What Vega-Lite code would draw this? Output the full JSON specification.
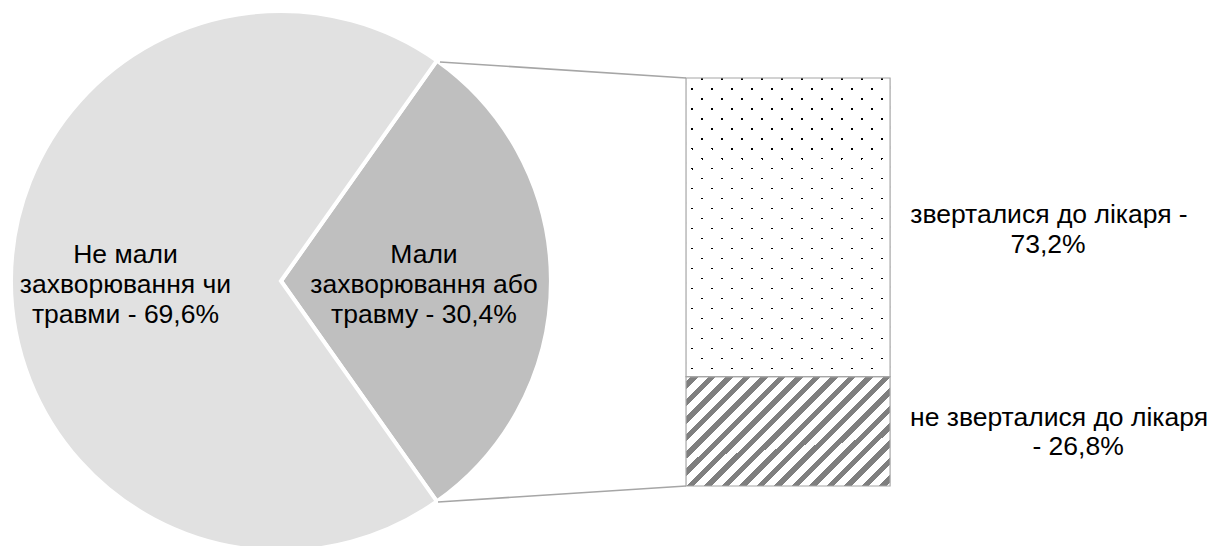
{
  "$schema": "https://vega.github.io/schema/vega-lite/v6.json",
  "width": 1211,
  "height": 546,
  "autosize": "none",
  "padding": 0,
  "background": "#ffffff",
  "config": {"view": {"stroke": null}},
  "datasets": {
    "pie": [
      {"group": "Мали захворювання або травму", "share": 30.4, "label": "Мали\nзахворювання або\nтравму - 30,4%"},
      {"group": "Не мали захворювання чи травми", "share": 69.6, "label": "Не мали\nзахворювання чи\nтравми - 69,6%"}
    ],
    "bar": [
      {"group": "не зверталися до лікаря", "share": 26.8, "l1": "не зверталися до лікаря", "l2": "- 26,8%"},
      {"group": "зверталися до лікаря", "share": 73.2, "l1": "зверталися до лікаря -", "l2": "73,2%"}
    ]
  },
  "layer": [
    {
      "data": {"name": "pie"},
      "mark": {"type": "arc", "radius": 270, "stroke": "#ffffff", "strokeWidth": 4},
      "encoding": {
        "theta": {"field": "share", "type": "quantitative", "stack": true, "scale": {"range": [0.6158, 6.899]}},
        "order": {"field": "share", "sort": "ascending"},
        "color": {"field": "group", "type": "nominal", "legend": null,
          "scale": {"domain": ["Мали захворювання або травму", "Не мали захворювання чи травми"], "range": ["#BFBFBF", "#E1E1E1"]}},
        "x": {"datum": 23.2, "type": "quantitative", "scale": {"domain": [0, 100], "nice": false, "zero": false}, "axis": null},
        "y": {"datum": 50.245, "type": "quantitative", "scale": {"domain": [-14.706, 119.118], "nice": false, "zero": false}, "axis": null}
      }
    },
    {
      "data": {"name": "pie"},
      "transform": [{"filter": "datum.share < 50"}],
      "mark": {"type": "rule", "color": "#A6A6A6", "strokeWidth": 1.6},
      "encoding": {
        "x": {"datum": 36.33, "type": "quantitative", "scale": {"domain": [0, 100], "nice": false, "zero": false}, "axis": null},
        "y": {"datum": 103.922, "type": "quantitative", "scale": {"domain": [-14.706, 119.118], "nice": false, "zero": false}, "axis": null},
        "x2": {"datum": 56.65},
        "y2": {"datum": 100}
      }
    },
    {
      "data": {"name": "pie"},
      "transform": [{"filter": "datum.share < 50"}],
      "mark": {"type": "rule", "color": "#A6A6A6", "strokeWidth": 1.6},
      "encoding": {
        "x": {"datum": 36.17, "type": "quantitative", "scale": {"domain": [0, 100], "nice": false, "zero": false}, "axis": null},
        "y": {"datum": -3.921, "type": "quantitative", "scale": {"domain": [-14.706, 119.118], "nice": false, "zero": false}, "axis": null},
        "x2": {"datum": 56.65},
        "y2": {"datum": 0}
      }
    },
    {
      "data": {"name": "bar"},
      "transform": [
        {"stack": "share", "groupby": [], "sort": [{"field": "share", "order": "ascending"}], "as": ["lo", "hi"]},
        {"filter": "datum.group === 'не зверталися до лікаря'"}
      ],
      "mark": {"type": "rect", "fill": {"gradient": "linear", "x1": 0, "y1": 0, "x2": 1.193, "y2": 0.6406, "stops": [
        {"offset": 0, "color": "#ffffff"},
        {"offset": 0.01594, "color": "#ffffff"}, {"offset": 0.01594, "color": "#7f7f7f"}, {"offset": 0.03985, "color": "#7f7f7f"}, {"offset": 0.03985, "color": "#ffffff"},
        {"offset": 0.07173, "color": "#ffffff"}, {"offset": 0.07173, "color": "#7f7f7f"}, {"offset": 0.09563, "color": "#7f7f7f"}, {"offset": 0.09563, "color": "#ffffff"},
        {"offset": 0.12751, "color": "#ffffff"}, {"offset": 0.12751, "color": "#7f7f7f"}, {"offset": 0.15142, "color": "#7f7f7f"}, {"offset": 0.15142, "color": "#ffffff"},
        {"offset": 0.18330, "color": "#ffffff"}, {"offset": 0.18330, "color": "#7f7f7f"}, {"offset": 0.20721, "color": "#7f7f7f"}, {"offset": 0.20721, "color": "#ffffff"},
        {"offset": 0.23908, "color": "#ffffff"}, {"offset": 0.23908, "color": "#7f7f7f"}, {"offset": 0.26299, "color": "#7f7f7f"}, {"offset": 0.26299, "color": "#ffffff"},
        {"offset": 0.29487, "color": "#ffffff"}, {"offset": 0.29487, "color": "#7f7f7f"}, {"offset": 0.31878, "color": "#7f7f7f"}, {"offset": 0.31878, "color": "#ffffff"},
        {"offset": 0.35066, "color": "#ffffff"}, {"offset": 0.35066, "color": "#7f7f7f"}, {"offset": 0.37456, "color": "#7f7f7f"}, {"offset": 0.37456, "color": "#ffffff"},
        {"offset": 0.40644, "color": "#ffffff"}, {"offset": 0.40644, "color": "#7f7f7f"}, {"offset": 0.43035, "color": "#7f7f7f"}, {"offset": 0.43035, "color": "#ffffff"},
        {"offset": 0.46223, "color": "#ffffff"}, {"offset": 0.46223, "color": "#7f7f7f"}, {"offset": 0.48613, "color": "#7f7f7f"}, {"offset": 0.48613, "color": "#ffffff"},
        {"offset": 0.51801, "color": "#ffffff"}, {"offset": 0.51801, "color": "#7f7f7f"}, {"offset": 0.54192, "color": "#7f7f7f"}, {"offset": 0.54192, "color": "#ffffff"},
        {"offset": 0.57380, "color": "#ffffff"}, {"offset": 0.57380, "color": "#7f7f7f"}, {"offset": 0.59770, "color": "#7f7f7f"}, {"offset": 0.59770, "color": "#ffffff"},
        {"offset": 0.62958, "color": "#ffffff"}, {"offset": 0.62958, "color": "#7f7f7f"}, {"offset": 0.65349, "color": "#7f7f7f"}, {"offset": 0.65349, "color": "#ffffff"},
        {"offset": 0.68537, "color": "#ffffff"}, {"offset": 0.68537, "color": "#7f7f7f"}, {"offset": 0.70928, "color": "#7f7f7f"}, {"offset": 0.70928, "color": "#ffffff"},
        {"offset": 0.74115, "color": "#ffffff"}, {"offset": 0.74115, "color": "#7f7f7f"}, {"offset": 0.76506, "color": "#7f7f7f"}, {"offset": 0.76506, "color": "#ffffff"},
        {"offset": 0.79694, "color": "#ffffff"}, {"offset": 0.79694, "color": "#7f7f7f"}, {"offset": 0.82085, "color": "#7f7f7f"}, {"offset": 0.82085, "color": "#ffffff"},
        {"offset": 0.85273, "color": "#ffffff"}, {"offset": 0.85273, "color": "#7f7f7f"}, {"offset": 0.87663, "color": "#7f7f7f"}, {"offset": 0.87663, "color": "#ffffff"},
        {"offset": 0.90851, "color": "#ffffff"}, {"offset": 0.90851, "color": "#7f7f7f"}, {"offset": 0.93242, "color": "#7f7f7f"}, {"offset": 0.93242, "color": "#ffffff"},
        {"offset": 0.96430, "color": "#ffffff"}, {"offset": 0.96430, "color": "#7f7f7f"}, {"offset": 0.98821, "color": "#7f7f7f"}, {"offset": 0.98821, "color": "#ffffff"},
        {"offset": 1, "color": "#ffffff"}
      ]}},
      "encoding": {
        "x": {"datum": 56.65, "type": "quantitative", "scale": {"domain": [0, 100], "nice": false, "zero": false}, "axis": null},
        "x2": {"datum": 73.5},
        "y": {"field": "lo", "type": "quantitative", "scale": {"domain": [-14.706, 119.118], "nice": false, "zero": false}, "axis": null},
        "y2": {"field": "hi"}
      }
    },
    {
      "data": {"name": "bar"},
      "transform": [
        {"stack": "share", "groupby": [], "sort": [{"field": "share", "order": "ascending"}], "as": ["lo", "hi"]},
        {"filter": "datum.group === 'зверталися до лікаря'"}
      ],
      "mark": {"type": "rect", "fill": {"gradient": "linear", "x1": 0, "y1": 1, "x2": 0.78268, "y2": -0.14814, "stops": [
        {"offset": 0, "color": "#ffffff"},
        {"offset": 0.02622, "color": "#ffffff"}, {"offset": 0.02622, "color": "#000000"}, {"offset": 0.03099, "color": "#000000"}, {"offset": 0.03099, "color": "#ffffff"},
        {"offset": 0.06594, "color": "#ffffff"}, {"offset": 0.06594, "color": "#000000"}, {"offset": 0.07071, "color": "#000000"}, {"offset": 0.07071, "color": "#ffffff"},
        {"offset": 0.10566, "color": "#ffffff"}, {"offset": 0.10566, "color": "#000000"}, {"offset": 0.11043, "color": "#000000"}, {"offset": 0.11043, "color": "#ffffff"},
        {"offset": 0.14538, "color": "#ffffff"}, {"offset": 0.14538, "color": "#000000"}, {"offset": 0.15015, "color": "#000000"}, {"offset": 0.15015, "color": "#ffffff"},
        {"offset": 0.18511, "color": "#ffffff"}, {"offset": 0.18511, "color": "#000000"}, {"offset": 0.18988, "color": "#000000"}, {"offset": 0.18988, "color": "#ffffff"},
        {"offset": 0.22483, "color": "#ffffff"}, {"offset": 0.22483, "color": "#000000"}, {"offset": 0.22960, "color": "#000000"}, {"offset": 0.22960, "color": "#ffffff"},
        {"offset": 0.26455, "color": "#ffffff"}, {"offset": 0.26455, "color": "#000000"}, {"offset": 0.26932, "color": "#000000"}, {"offset": 0.26932, "color": "#ffffff"},
        {"offset": 0.30427, "color": "#ffffff"}, {"offset": 0.30427, "color": "#000000"}, {"offset": 0.30904, "color": "#000000"}, {"offset": 0.30904, "color": "#ffffff"},
        {"offset": 0.34399, "color": "#ffffff"}, {"offset": 0.34399, "color": "#000000"}, {"offset": 0.34876, "color": "#000000"}, {"offset": 0.34876, "color": "#ffffff"},
        {"offset": 0.38372, "color": "#ffffff"}, {"offset": 0.38372, "color": "#000000"}, {"offset": 0.38849, "color": "#000000"}, {"offset": 0.38849, "color": "#ffffff"},
        {"offset": 0.42344, "color": "#ffffff"}, {"offset": 0.42344, "color": "#000000"}, {"offset": 0.42821, "color": "#000000"}, {"offset": 0.42821, "color": "#ffffff"},
        {"offset": 0.46316, "color": "#ffffff"}, {"offset": 0.46316, "color": "#000000"}, {"offset": 0.46793, "color": "#000000"}, {"offset": 0.46793, "color": "#ffffff"},
        {"offset": 0.50288, "color": "#ffffff"}, {"offset": 0.50288, "color": "#000000"}, {"offset": 0.50765, "color": "#000000"}, {"offset": 0.50765, "color": "#ffffff"},
        {"offset": 0.54260, "color": "#ffffff"}, {"offset": 0.54260, "color": "#000000"}, {"offset": 0.54737, "color": "#000000"}, {"offset": 0.54737, "color": "#ffffff"},
        {"offset": 0.58233, "color": "#ffffff"}, {"offset": 0.58233, "color": "#000000"}, {"offset": 0.58710, "color": "#000000"}, {"offset": 0.58710, "color": "#ffffff"},
        {"offset": 0.62205, "color": "#ffffff"}, {"offset": 0.62205, "color": "#000000"}, {"offset": 0.62682, "color": "#000000"}, {"offset": 0.62682, "color": "#ffffff"},
        {"offset": 0.66177, "color": "#ffffff"}, {"offset": 0.66177, "color": "#000000"}, {"offset": 0.66654, "color": "#000000"}, {"offset": 0.66654, "color": "#ffffff"},
        {"offset": 0.70149, "color": "#ffffff"}, {"offset": 0.70149, "color": "#000000"}, {"offset": 0.70626, "color": "#000000"}, {"offset": 0.70626, "color": "#ffffff"},
        {"offset": 0.74121, "color": "#ffffff"}, {"offset": 0.74121, "color": "#000000"}, {"offset": 0.74598, "color": "#000000"}, {"offset": 0.74598, "color": "#ffffff"},
        {"offset": 0.78094, "color": "#ffffff"}, {"offset": 0.78094, "color": "#000000"}, {"offset": 0.78571, "color": "#000000"}, {"offset": 0.78571, "color": "#ffffff"},
        {"offset": 0.82066, "color": "#ffffff"}, {"offset": 0.82066, "color": "#000000"}, {"offset": 0.82543, "color": "#000000"}, {"offset": 0.82543, "color": "#ffffff"},
        {"offset": 0.86038, "color": "#ffffff"}, {"offset": 0.86038, "color": "#000000"}, {"offset": 0.86515, "color": "#000000"}, {"offset": 0.86515, "color": "#ffffff"},
        {"offset": 0.90010, "color": "#ffffff"}, {"offset": 0.90010, "color": "#000000"}, {"offset": 0.90487, "color": "#000000"}, {"offset": 0.90487, "color": "#ffffff"},
        {"offset": 0.93982, "color": "#ffffff"}, {"offset": 0.93982, "color": "#000000"}, {"offset": 0.94459, "color": "#000000"}, {"offset": 0.94459, "color": "#ffffff"},
        {"offset": 0.97955, "color": "#ffffff"}, {"offset": 0.97955, "color": "#000000"}, {"offset": 0.98432, "color": "#000000"}, {"offset": 0.98432, "color": "#ffffff"},
        {"offset": 1, "color": "#ffffff"}
      ]}},
      "encoding": {
        "x": {"datum": 56.65, "type": "quantitative", "scale": {"domain": [0, 100], "nice": false, "zero": false}, "axis": null},
        "x2": {"datum": 73.5},
        "y": {"field": "lo", "type": "quantitative", "scale": {"domain": [-14.706, 119.118], "nice": false, "zero": false}, "axis": null},
        "y2": {"field": "hi"}
      }
    },
    {
      "data": {"name": "bar"},
      "transform": [
        {"stack": "share", "groupby": [], "sort": [{"field": "share", "order": "ascending"}], "as": ["lo", "hi"]},
        {"filter": "datum.group === 'зверталися до лікаря'"}
      ],
      "mark": {"type": "rect", "fill": {"gradient": "linear", "x1": 0, "y1": 0, "x2": 0.78268, "y2": 1.14814, "stops": [
        {"offset": 0, "color": "#ffffff"},
        {"offset": 0.03138, "color": "#ffffff"}, {"offset": 0.03138, "color": "rgba(255,255,255,0)"}, {"offset": 0.03615, "color": "rgba(255,255,255,0)"}, {"offset": 0.03615, "color": "#ffffff"},
        {"offset": 0.07110, "color": "#ffffff"}, {"offset": 0.07110, "color": "rgba(255,255,255,0)"}, {"offset": 0.07587, "color": "rgba(255,255,255,0)"}, {"offset": 0.07587, "color": "#ffffff"},
        {"offset": 0.11082, "color": "#ffffff"}, {"offset": 0.11082, "color": "rgba(255,255,255,0)"}, {"offset": 0.11559, "color": "rgba(255,255,255,0)"}, {"offset": 0.11559, "color": "#ffffff"},
        {"offset": 0.15055, "color": "#ffffff"}, {"offset": 0.15055, "color": "rgba(255,255,255,0)"}, {"offset": 0.15532, "color": "rgba(255,255,255,0)"}, {"offset": 0.15532, "color": "#ffffff"},
        {"offset": 0.19027, "color": "#ffffff"}, {"offset": 0.19027, "color": "rgba(255,255,255,0)"}, {"offset": 0.19504, "color": "rgba(255,255,255,0)"}, {"offset": 0.19504, "color": "#ffffff"},
        {"offset": 0.22999, "color": "#ffffff"}, {"offset": 0.22999, "color": "rgba(255,255,255,0)"}, {"offset": 0.23476, "color": "rgba(255,255,255,0)"}, {"offset": 0.23476, "color": "#ffffff"},
        {"offset": 0.26971, "color": "#ffffff"}, {"offset": 0.26971, "color": "rgba(255,255,255,0)"}, {"offset": 0.27448, "color": "rgba(255,255,255,0)"}, {"offset": 0.27448, "color": "#ffffff"},
        {"offset": 0.30943, "color": "#ffffff"}, {"offset": 0.30943, "color": "rgba(255,255,255,0)"}, {"offset": 0.31420, "color": "rgba(255,255,255,0)"}, {"offset": 0.31420, "color": "#ffffff"},
        {"offset": 0.34916, "color": "#ffffff"}, {"offset": 0.34916, "color": "rgba(255,255,255,0)"}, {"offset": 0.35393, "color": "rgba(255,255,255,0)"}, {"offset": 0.35393, "color": "#ffffff"},
        {"offset": 0.38888, "color": "#ffffff"}, {"offset": 0.38888, "color": "rgba(255,255,255,0)"}, {"offset": 0.39365, "color": "rgba(255,255,255,0)"}, {"offset": 0.39365, "color": "#ffffff"},
        {"offset": 0.42860, "color": "#ffffff"}, {"offset": 0.42860, "color": "rgba(255,255,255,0)"}, {"offset": 0.43337, "color": "rgba(255,255,255,0)"}, {"offset": 0.43337, "color": "#ffffff"},
        {"offset": 0.46832, "color": "#ffffff"}, {"offset": 0.46832, "color": "rgba(255,255,255,0)"}, {"offset": 0.47309, "color": "rgba(255,255,255,0)"}, {"offset": 0.47309, "color": "#ffffff"},
        {"offset": 0.50804, "color": "#ffffff"}, {"offset": 0.50804, "color": "rgba(255,255,255,0)"}, {"offset": 0.51281, "color": "rgba(255,255,255,0)"}, {"offset": 0.51281, "color": "#ffffff"},
        {"offset": 0.54777, "color": "#ffffff"}, {"offset": 0.54777, "color": "rgba(255,255,255,0)"}, {"offset": 0.55254, "color": "rgba(255,255,255,0)"}, {"offset": 0.55254, "color": "#ffffff"},
        {"offset": 0.58749, "color": "#ffffff"}, {"offset": 0.58749, "color": "rgba(255,255,255,0)"}, {"offset": 0.59226, "color": "rgba(255,255,255,0)"}, {"offset": 0.59226, "color": "#ffffff"},
        {"offset": 0.62721, "color": "#ffffff"}, {"offset": 0.62721, "color": "rgba(255,255,255,0)"}, {"offset": 0.63198, "color": "rgba(255,255,255,0)"}, {"offset": 0.63198, "color": "#ffffff"},
        {"offset": 0.66693, "color": "#ffffff"}, {"offset": 0.66693, "color": "rgba(255,255,255,0)"}, {"offset": 0.67170, "color": "rgba(255,255,255,0)"}, {"offset": 0.67170, "color": "#ffffff"},
        {"offset": 0.70665, "color": "#ffffff"}, {"offset": 0.70665, "color": "rgba(255,255,255,0)"}, {"offset": 0.71142, "color": "rgba(255,255,255,0)"}, {"offset": 0.71142, "color": "#ffffff"},
        {"offset": 0.74638, "color": "#ffffff"}, {"offset": 0.74638, "color": "rgba(255,255,255,0)"}, {"offset": 0.75115, "color": "rgba(255,255,255,0)"}, {"offset": 0.75115, "color": "#ffffff"},
        {"offset": 0.78610, "color": "#ffffff"}, {"offset": 0.78610, "color": "rgba(255,255,255,0)"}, {"offset": 0.79087, "color": "rgba(255,255,255,0)"}, {"offset": 0.79087, "color": "#ffffff"},
        {"offset": 0.82582, "color": "#ffffff"}, {"offset": 0.82582, "color": "rgba(255,255,255,0)"}, {"offset": 0.83059, "color": "rgba(255,255,255,0)"}, {"offset": 0.83059, "color": "#ffffff"},
        {"offset": 0.86554, "color": "#ffffff"}, {"offset": 0.86554, "color": "rgba(255,255,255,0)"}, {"offset": 0.87031, "color": "rgba(255,255,255,0)"}, {"offset": 0.87031, "color": "#ffffff"},
        {"offset": 0.90526, "color": "#ffffff"}, {"offset": 0.90526, "color": "rgba(255,255,255,0)"}, {"offset": 0.91003, "color": "rgba(255,255,255,0)"}, {"offset": 0.91003, "color": "#ffffff"},
        {"offset": 0.94499, "color": "#ffffff"}, {"offset": 0.94499, "color": "rgba(255,255,255,0)"}, {"offset": 0.94976, "color": "rgba(255,255,255,0)"}, {"offset": 0.94976, "color": "#ffffff"},
        {"offset": 0.98471, "color": "#ffffff"}, {"offset": 0.98471, "color": "rgba(255,255,255,0)"}, {"offset": 0.98948, "color": "rgba(255,255,255,0)"}, {"offset": 0.98948, "color": "#ffffff"},
        {"offset": 1, "color": "#ffffff"}
      ]}},
      "encoding": {
        "x": {"datum": 56.65, "type": "quantitative", "scale": {"domain": [0, 100], "nice": false, "zero": false}, "axis": null},
        "x2": {"datum": 73.5},
        "y": {"field": "lo", "type": "quantitative", "scale": {"domain": [-14.706, 119.118], "nice": false, "zero": false}, "axis": null},
        "y2": {"field": "hi"}
      }
    },
    {
      "data": {"name": "bar"},
      "transform": [
        {"stack": "share", "groupby": [], "sort": [{"field": "share", "order": "ascending"}], "as": ["lo", "hi"]}
      ],
      "mark": {"type": "rect", "filled": false, "stroke": "#A6A6A6", "strokeWidth": 1.2},
      "encoding": {
        "x": {"datum": 56.65, "type": "quantitative", "scale": {"domain": [0, 100], "nice": false, "zero": false}, "axis": null},
        "x2": {"datum": 73.5},
        "y": {"field": "lo", "type": "quantitative", "scale": {"domain": [-14.706, 119.118], "nice": false, "zero": false}, "axis": null},
        "y2": {"field": "hi"}
      }
    },
    {
      "data": {"name": "pie"},
      "transform": [{"filter": "datum.share > 50"}],
      "mark": {"type": "text", "font": "Liberation Sans", "fontSize": 26.5, "lineBreak": "\n", "lineHeight": 30, "align": "center", "baseline": "middle", "color": "#000000"},
      "encoding": {
        "text": {"field": "label"},
        "x": {"datum": 10.36, "type": "quantitative", "scale": {"domain": [0, 100], "nice": false, "zero": false}, "axis": null},
        "y": {"datum": 56.544, "type": "quantitative", "scale": {"domain": [-14.706, 119.118], "nice": false, "zero": false}, "axis": null}
      }
    },
    {
      "data": {"name": "pie"},
      "transform": [{"filter": "datum.share < 50"}],
      "mark": {"type": "text", "font": "Liberation Sans", "fontSize": 26.5, "lineBreak": "\n", "lineHeight": 30, "align": "center", "baseline": "middle", "color": "#000000"},
      "encoding": {
        "text": {"field": "label"},
        "x": {"datum": 35.01, "type": "quantitative", "scale": {"domain": [0, 100], "nice": false, "zero": false}, "axis": null},
        "y": {"datum": 56.544, "type": "quantitative", "scale": {"domain": [-14.706, 119.118], "nice": false, "zero": false}, "axis": null}
      }
    },
    {
      "data": {"name": "bar"},
      "transform": [{"filter": "datum.group === 'зверталися до лікаря'"}],
      "mark": {"type": "text", "font": "Liberation Sans", "fontSize": 26.5, "align": "center", "baseline": "middle", "color": "#000000"},
      "encoding": {
        "text": {"field": "l1"},
        "x": {"datum": 86.62, "type": "quantitative", "scale": {"domain": [0, 100], "nice": false, "zero": false}, "axis": null},
        "y": {"datum": 66.422, "type": "quantitative", "scale": {"domain": [-14.706, 119.118], "nice": false, "zero": false}, "axis": null}
      }
    },
    {
      "data": {"name": "bar"},
      "transform": [{"filter": "datum.group === 'зверталися до лікаря'"}],
      "mark": {"type": "text", "font": "Liberation Sans", "fontSize": 26.5, "align": "center", "baseline": "middle", "color": "#000000"},
      "encoding": {
        "text": {"field": "l2"},
        "x": {"datum": 86.54, "type": "quantitative", "scale": {"domain": [0, 100], "nice": false, "zero": false}, "axis": null},
        "y": {"datum": 59.069, "type": "quantitative", "scale": {"domain": [-14.706, 119.118], "nice": false, "zero": false}, "axis": null}
      }
    },
    {
      "data": {"name": "bar"},
      "transform": [{"filter": "datum.group === 'не зверталися до лікаря'"}],
      "mark": {"type": "text", "font": "Liberation Sans", "fontSize": 26.5, "align": "center", "baseline": "middle", "color": "#000000"},
      "encoding": {
        "text": {"field": "l1"},
        "x": {"datum": 87.45, "type": "quantitative", "scale": {"domain": [0, 100], "nice": false, "zero": false}, "axis": null},
        "y": {"datum": 16.667, "type": "quantitative", "scale": {"domain": [-14.706, 119.118], "nice": false, "zero": false}, "axis": null}
      }
    },
    {
      "data": {"name": "bar"},
      "transform": [{"filter": "datum.group === 'не зверталися до лікаря'"}],
      "mark": {"type": "text", "font": "Liberation Sans", "fontSize": 26.5, "align": "center", "baseline": "middle", "color": "#000000"},
      "encoding": {
        "text": {"field": "l2"},
        "x": {"datum": 89.02, "type": "quantitative", "scale": {"domain": [0, 100], "nice": false, "zero": false}, "axis": null},
        "y": {"datum": 9.559, "type": "quantitative", "scale": {"domain": [-14.706, 119.118], "nice": false, "zero": false}, "axis": null}
      }
    }
  ]
}
